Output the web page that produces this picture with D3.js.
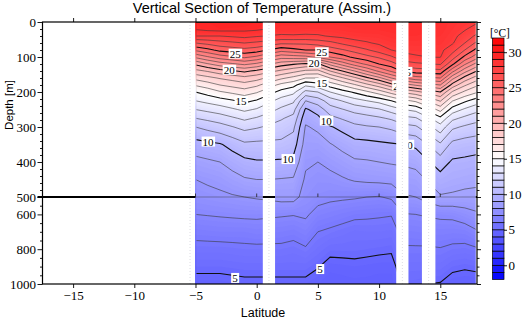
<!DOCTYPE html>
<html>
<head>
<meta charset="utf-8">
<title>Vertical Section of Temperature</title>
<script src="https://cdnjs.cloudflare.com/ajax/libs/d3/7.8.5/d3.min.js"></script>
<style>
  body { margin: 0; background: #fff; }
  .serif { font-family: "Liberation Serif", "Times New Roman", serif; }
  .sans { font-family: "Liberation Sans", Arial, sans-serif; }
</style>
</head>
<body>
<script>
// section grid: one temperature profile per latitude, values at each depth level
var lats = [-5,-4,-3,-2,-1,0,1,2,3,4,5,6,7,8,9,10,11,12,13,14,15,16,17,18];
var depths = [0,20,40,60,80,100,120,140,160,180,200,225,250,275,300,350,400,450,500,600,700,800,900,1000];
var tempProfiles = [
  [29.2,29.1,28.0,26.0,24.2,22.2,20.2,18.7,17.3,16.1,15.0,14.0,13.0,12.0,11.0,9.6,8.7,8.0,7.6,7.0,6.3,5.7,5.2,4.7],
  [29.4,29.3,28.0,26.3,24.7,22.9,20.9,19.1,17.7,16.5,15.4,14.3,13.25,12.25,11.3,9.75,8.85,8.15,7.7,7.05,6.35,5.7,5.2,4.7],
  [29.6,29.4,28.0,26.6,25.3,23.5,21.5,19.6,18.1,17.0,15.9,14.6,13.5,12.5,11.6,9.9,9.0,8.3,7.8,7.1,6.4,5.7,5.2,4.7],
  [29.6,29.35,28.15,26.8,25.5,23.85,21.85,19.9,18.4,17.3,16.2,14.9,13.85,12.85,11.95,10.35,9.4,8.6,7.9,7.15,6.4,5.75,5.25,4.75],
  [29.6,29.3,28.3,27.0,25.7,24.2,22.2,20.2,18.7,17.6,16.5,15.25,14.2,13.2,12.3,10.8,9.75,8.9,8.0,7.2,6.4,5.8,5.3,4.8],
  [29.4,29.2,28.1,26.8,25.5,23.8,21.8,19.8,18.4,17.2,16.1,14.9,13.9,12.9,12.1,10.75,9.9,9.0,8.1,7.2,6.5,5.8,5.3,4.8],
  [29.15,28.95,27.95,26.5,24.95,23.1,21.1,19.3,17.8,16.45,15.4,14.25,13.35,12.5,11.85,10.75,9.9,9.0,8.2,7.15,6.45,5.8,5.3,4.8],
  [28.9,28.7,27.8,26.2,24.4,22.4,20.45,18.8,17.2,15.7,14.65,13.6,12.8,12.1,11.6,10.75,9.85,8.95,8.35,7.1,6.4,5.8,5.3,4.8],
  [28.9,28.7,27.85,26.2,24.7,22.55,20.1,18.3,16.7,15.3,14.25,13.2,12.35,11.7,11.2,10.5,9.7,8.9,8.35,7.05,6.3,5.7,5.3,4.8],
  [28.9,28.6,27.8,26.2,25.0,22.7,19.8,17.8,16.0,14.2,12.7,11.0,9.85,9.3,8.9,8.55,8.15,7.85,7.6,7.15,6.55,5.9,5.3,4.8],
  [28.9,28.6,27.85,26.4,25.0,23.25,19.8,17.7,16.0,14.6,13.0,11.5,10.45,9.75,9.2,8.55,8.0,7.65,7.35,6.65,6.0,5.55,5.05,4.6],
  [28.9,28.6,28.1,26.7,25.5,24.0,21.3,19.0,17.0,15.4,14.0,12.5,11.55,10.7,9.9,8.93,8.27,7.7,7.2,6.5,5.85,5.25,4.7,4.4],
  [28.9,28.7,28.25,27.2,25.9,24.6,22.4,20.0,17.9,16.1,14.6,13.05,11.95,11.1,10.3,9.3,8.55,7.9,7.15,6.35,5.7,5.25,4.75,4.45],
  [28.9,28.8,28.4,27.65,26.35,25.25,23.45,21.0,18.8,16.85,15.15,13.6,12.35,11.45,10.75,9.65,8.85,8.1,7.1,6.2,5.55,5.25,4.8,4.5],
  [28.9,28.85,28.45,27.9,26.9,25.7,24.2,22.1,19.8,17.7,15.8,14.0,12.6,11.65,10.9,9.7,8.9,8.2,7.0,6.15,5.6,5.2,4.75,4.5],
  [28.9,28.85,28.5,28.15,27.45,26.15,25.0,23.2,20.75,18.5,16.5,14.35,12.9,11.85,11.0,9.8,9.0,8.25,6.95,6.1,5.6,5.15,4.7,4.45],
  [29.0,28.9,28.7,28.35,28.0,26.85,25.55,24.15,22.0,19.55,17.4,15.0,13.45,12.15,11.2,9.9,9.1,8.3,7.15,6.05,5.55,5.1,4.7,4.45],
  [29.0,28.95,28.8,28.5,28.2,27.7,26.5,25.2,23.0,20.5,18.2,15.75,14.0,12.7,11.65,10.0,9.15,8.5,7.9,6.95,6.35,5.9,5.5,5.15],
  [29.0,28.95,28.8,28.5,28.25,27.9,26.8,25.5,23.6,21.1,18.7,16.2,14.3,12.9,11.85,10.2,9.3,8.6,8.0,7.0,6.4,5.9,5.5,5.1],
  [28.9,28.85,28.7,28.5,28.25,28.0,26.95,25.6,23.8,21.55,19.35,17.15,15.3,13.8,12.7,11.0,9.9,9.1,8.45,7.1,6.45,5.9,5.5,5.0],
  [28.8,28.75,28.6,28.45,28.25,28.05,27.1,25.7,24.0,22.0,20.0,18.1,16.35,14.75,13.6,11.85,10.5,9.6,8.9,7.2,6.5,5.95,5.5,4.95],
  [28.5,28.4,28.25,28.1,27.4,26.45,25.2,23.3,21.3,19.6,17.85,16.05,14.55,13.25,12.2,10.7,9.85,9.4,8.85,7.25,6.45,5.8,5.2,4.6],
  [28.3,28.1,27.65,27.0,26.0,24.75,23.15,21.35,19.65,18.15,16.8,15.2,13.85,12.75,11.85,10.5,9.8,9.3,8.75,7.55,6.5,5.75,5.1,4.55],
  [28.1,27.6,26.75,25.75,24.65,23.4,21.6,20.0,18.5,17.15,16.1,14.5,13.3,12.35,11.6,10.4,9.7,9.2,8.75,7.85,6.9,5.9,5.2,4.55]
];

// latitude ranges that carry observations; everything else is left blank
var dataSpans = [[-5, 0.5], [1.5, 11.4], [12.4, 13.5], [14.6, 17.9]];
var stationLats = [-5.45, 1.0, 11.9, 14.05];

var contourLabels = [
  {lat: -1.76, depth: 91, value: 25},
  {lat: -2.25, depth: 137, value: 20},
  {lat: -1.28, depth: 226, value: 15},
  {lat: -3.97, depth: 342, value: 10},
  {lat: -1.78, depth: 966, value: 5},
  {lat: 5.31, depth: 87, value: 25},
  {lat: 4.68, depth: 117, value: 20},
  {lat: 5.31, depth: 175, value: 15},
  {lat: 5.69, depth: 282, value: 10},
  {lat: 2.56, depth: 392, value: 10},
  {lat: 5.17, depth: 915, value: 5},
  {lat: 11.6, depth: 182, value: 20},
  {lat: 12.15, depth: 143, value: 25},
  {lat: 12.3, depth: 351, value: 10}
];

var latTicks = [-15, -10, -5, 0, 5, 10, 15];
var depthTicks = [0, 100, 200, 300, 400, 500, 600, 800, 1000];
var barTicks = [0, 5, 10, 15, 20, 25, 30];

var width = 525, height = 321;
var plotL = 42.5, plotR = 477, plotT = 22, plotB = 284;

var svg = d3.select("body").append("svg")
  .attr("width", width)
  .attr("height", height);

var x = d3.scaleLinear().domain([-17.5, 18]).range([plotL, plotR]);
// upper 500 m stretched, lower 500 m compressed
var y = d3.scaleLinear().domain([0, 500, 1000]).range([plotT, 197, plotB]);
var color = d3.scaleLinear().domain([-2, 15, 32]).range(["#0000ff", "#ffffff", "#ff0000"]);

var nx = lats.length, ny = depths.length;
var grid = new Array(nx * ny);
for (var j = 0; j < ny; j++) {
  for (var i = 0; i < nx; i++) grid[j * nx + i] = tempProfiles[i][j];
}

// grid index -> lat/depth -> pixels
var latAt = d3.scaleLinear().domain(d3.range(nx)).range(lats);
var depthAt = d3.scaleLinear().domain(d3.range(ny)).range(depths);
var clampX = function (v) { return Math.max(0, Math.min(nx - 1, v)); };
var clampY = function (v) { return Math.max(0, Math.min(ny - 1, v)); };
var path = d3.geoPath(d3.geoTransform({
  point: function (gx, gy) {
    this.stream.point(x(latAt(clampX(gx - 0.5))), y(depthAt(clampY(gy - 0.5))));
  }
}));

var defs = svg.append("defs");
defs.append("clipPath").attr("id", "fieldClip").append("rect")
  .attr("x", x(-5)).attr("y", plotT).attr("width", x(18) - x(-5)).attr("height", plotB - plotT);
defs.append("clipPath").attr("id", "lineClip").append("rect")
  .attr("x", x(-5) + 1).attr("y", plotT + 0.5).attr("width", x(18) - x(-5) - 2).attr("height", plotB - plotT - 1);

// colour field as fine filled bands
var step = 0.2;
var fillLevels = d3.range(3, 31, step);
svg.append("g").attr("clip-path", "url(#fieldClip)")
  .selectAll("path")
  .data(d3.contours().size([nx, ny]).thresholds(fillLevels)(grid))
  .join("path")
  .attr("d", path)
  .attr("fill", function (d) { return color(d.value + step / 2); });

// isotherms every 1 degree, every 5th one darker
svg.append("g").attr("clip-path", "url(#lineClip)")
  .selectAll("path")
  .data(d3.contours().size([nx, ny]).thresholds(d3.range(5, 30))(grid))
  .join("path")
  .attr("d", path)
  .attr("fill", "none")
  .attr("stroke", function (d) { return d.value % 5 === 0 ? "#111" : "#3a3a3a"; })
  .attr("stroke-width", function (d) { return d.value % 5 === 0 ? 1.1 : 0.6; });

// contour labels on white boxes
var lab = svg.append("g").selectAll("g")
  .data(contourLabels)
  .join("g")
  .attr("transform", function (d) { return "translate(" + x(d.lat) + "," + y(d.depth) + ")"; });
lab.append("rect").attr("fill", "#fff");
lab.append("text")
  .attr("class", "serif")
  .attr("text-anchor", "middle")
  .attr("dy", "0.35em")
  .style("font-size", "11px")
  .text(function (d) { return d.value; });
lab.each(function () {
  var g = d3.select(this);
  var b = g.select("text").node().getBBox();
  g.select("rect").attr("x", b.x - 1).attr("y", b.y + 1).attr("width", b.width + 2).attr("height", b.height - 2);
});

// blank latitude ranges without observations
var gaps = [];
for (var k = 0; k < dataSpans.length - 1; k++) gaps.push([dataSpans[k][1], dataSpans[k + 1][0]]);
gaps.push([dataSpans[dataSpans.length - 1][1], 18]);
svg.append("g").selectAll("rect")
  .data(gaps)
  .join("rect")
  .attr("x", function (d) { return x(d[0]); })
  .attr("y", plotT)
  .attr("width", function (d) { return x(d[1]) - x(d[0]); })
  .attr("height", plotB - plotT)
  .attr("fill", "#fff");

svg.append("g").selectAll("line")
  .data(stationLats)
  .join("line")
  .attr("x1", function (d) { return x(d); })
  .attr("x2", function (d) { return x(d); })
  .attr("y1", plotT)
  .attr("y2", plotB)
  .attr("stroke", "#d4d4dc")
  .attr("stroke-width", 0.8)
  .attr("stroke-dasharray", "1,2");

// 500 m panel break: heavy where blank, faint over the field
var blanks = [[-17.5, dataSpans[0][0]]].concat(gaps);
svg.append("g").selectAll("line")
  .data(blanks)
  .join("line")
  .attr("x1", function (d, i) { return i === 0 ? plotL - 5 : x(d[0]); })
  .attr("x2", function (d) { return x(d[1]); })
  .attr("y1", y(500))
  .attr("y2", y(500))
  .attr("stroke", "#000")
  .attr("stroke-width", 2);
svg.append("g").selectAll("line")
  .data(dataSpans)
  .join("line")
  .attr("x1", function (d) { return x(d[0]); })
  .attr("x2", function (d) { return x(d[1]); })
  .attr("y1", y(500))
  .attr("y2", y(500))
  .attr("stroke", "#333")
  .attr("stroke-opacity", 0.6)
  .attr("stroke-width", 0.7);
svg.append("g").selectAll("line")
  .data(latTicks.filter(function (t) { return t >= -5; }))
  .join("line")
  .attr("x1", function (d) { return x(d); })
  .attr("x2", function (d) { return x(d); })
  .attr("y1", y(500))
  .attr("y2", y(500) - 3.5)
  .attr("stroke", "#222")
  .attr("stroke-width", 0.8);

// frame and axes
svg.append("rect")
  .attr("x", plotL).attr("y", plotT)
  .attr("width", plotR - plotL).attr("height", plotB - plotT)
  .attr("fill", "none").attr("stroke", "#000").attr("stroke-width", 1.2);

function styleAxis(g) {
  g.select(".domain").remove();
  g.attr("font-family", null).attr("font-size", null);
  g.selectAll("line").attr("stroke", "#000").attr("stroke-width", 0.9);
  g.selectAll("text").attr("class", "serif").style("font-size", "13px").attr("fill", "#000");
}

var minorDepth = d3.range(20, 500, 20).filter(function (d) { return d % 100; })
  .concat(d3.range(550, 1000, 50).filter(function (d) { return d !== 600 && d !== 800; }));

svg.append("g").attr("transform", "translate(0," + plotB + ")")
  .call(d3.axisBottom(x).tickValues(latTicks).tickSize(4).tickPadding(3)).call(styleAxis);
svg.append("g").attr("transform", "translate(0," + plotT + ")")
  .call(d3.axisTop(x).tickValues(latTicks).tickSize(4).tickFormat("")).call(styleAxis);
svg.append("g").attr("transform", "translate(" + plotL + ",0)")
  .call(d3.axisLeft(y).tickValues(depthTicks).tickSize(5).tickPadding(1.5).tickFormat(d3.format("d"))).call(styleAxis);
svg.append("g").attr("transform", "translate(" + plotL + ",0)")
  .call(d3.axisLeft(y).tickValues(minorDepth).tickSize(2.5).tickFormat("")).call(styleAxis);
svg.append("g").attr("transform", "translate(" + plotR + ",0)")
  .call(d3.axisRight(y).tickValues(depthTicks).tickSize(4).tickFormat("")).call(styleAxis);
svg.append("g").attr("transform", "translate(" + plotR + ",0)")
  .call(d3.axisRight(y).tickValues(minorDepth).tickSize(2.5).tickFormat("")).call(styleAxis);

// colour bar, one box per degree
var barY = d3.scaleLinear().domain([-2, 32]).range([279.5, 38]);
var barX = 492.5, barW = 11.5;
svg.append("g").selectAll("rect")
  .data(d3.range(-2, 32))
  .join("rect")
  .attr("x", barX)
  .attr("y", function (d) { return barY(d + 1); })
  .attr("width", barW)
  .attr("height", function (d) { return barY(d) - barY(d + 1); })
  .attr("fill", function (d) { return color(d + 0.5); })
  .attr("stroke", "#000")
  .attr("stroke-width", 0.7);
svg.append("g").attr("transform", "translate(" + (barX + barW) + ",0)")
  .call(d3.axisRight(barY).tickValues(barTicks).tickSize(3).tickPadding(1.5)).call(styleAxis);
svg.append("text")
  .attr("class", "serif")
  .attr("x", 490).attr("y", 37)
  .style("font-size", "11.5px")
  .text("[°C]");

// titles
svg.append("text")
  .attr("class", "sans")
  .attr("x", 262).attr("y", 13)
  .attr("text-anchor", "middle")
  .style("font-size", "14.5px")
  .text("Vertical Section of Temperature (Assim.)");
svg.append("text")
  .attr("class", "sans")
  .attr("x", 263).attr("y", 317)
  .attr("text-anchor", "middle")
  .style("font-size", "12.5px")
  .text("Latitude");
svg.append("text")
  .attr("class", "sans")
  .attr("transform", "translate(13,105) rotate(-90)")
  .attr("text-anchor", "middle")
  .style("font-size", "11.5px")
  .text("Depth [m]");
</script>
</body>
</html>
